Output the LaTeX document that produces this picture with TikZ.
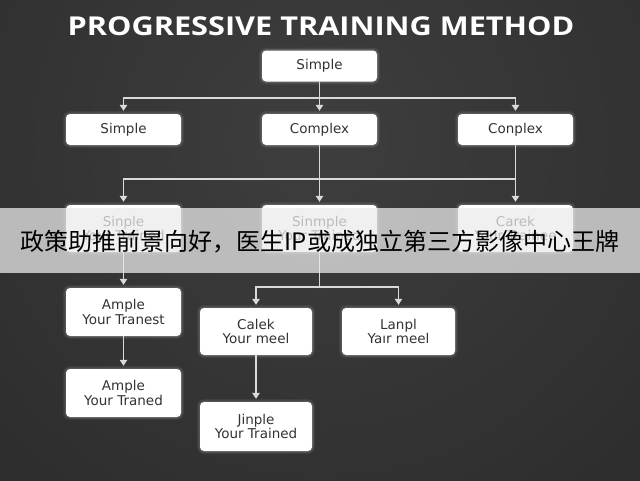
\documentclass[tikz,border=0pt]{standalone}
\usepackage{fontspec}
\usetikzlibrary{arrows.meta,calc}
\newfontfamily\boxfont{DejaVu Sans}
\newfontfamily\titlefont{Open Sans}
\newfontfamily\cjk{Noto Sans CJK SC}
\definecolor{bgdark}{HTML}{222222}
\definecolor{bglight}{HTML}{3E3E3E}
\definecolor{txtgray}{HTML}{333333}
\definecolor{linegray}{HTML}{DADADA}
\definecolor{bannergray}{HTML}{EBEBEB}
\tikzset{
  box/.style={fill=white, rounded corners=4pt, inner sep=0pt, align=center,
    text=txtgray, font=\boxfont\fontsize{13.5}{14.5}\selectfont,
    preaction={draw=white, line width=6pt, opacity=0.06},
    preaction={draw=white, line width=3pt, opacity=0.12}},
  one/.style={box, minimum width=115pt, minimum height=31pt},
  two/.style={box, minimum width=115pt, minimum height=48pt},
  conn/.style={draw=linegray, line width=1.3pt},
  arr/.style={conn, -{Triangle[width=7.5pt,length=6pt]}, shorten >=3pt},
}
\begin{document}
\begin{tikzpicture}[x=1pt,y=-1pt]
\useasboundingbox (0,0) rectangle (640,480);
\fill[bgdark] (0,0) rectangle (640,480);
\begin{scope}
\clip (0,0) rectangle (640,480);
\fill[inner color=bglight, outer color=bgdark] (320,140) circle (760);
\end{scope}
\node[text=white, xscale=1.18, font=\titlefont\bfseries\fontsize{26}{30}\selectfont] (title) at (321,26) {PROGRESSIVE TRAINING METHOD};
% nodes
\node[one] (top) at (319.5,66) {Simple};
\node[one] (r2a) at (123.5,129.5) {Simple};
\node[one] (r2b) at (319.5,129.5) {Complex};
\node[one] (r2c) at (515.5,129.5) {Conplex};
\node[two, minimum height=47pt] (r3a) at (123.5,228.5) {Sinple\\Your Trained};
\node[two, minimum height=47pt] (r3b) at (319.5,228.5) {Sinmple\\Your Trained};
\node[two, minimum height=47pt] (r3c) at (515.5,228.5) {Carek\\Your Trainee};
\node[two] (a1) at (123.5,312) {Ample\\Your Tranest};
\node[two] (a2) at (123.5,393) {Ample\\Your Traned};
\node[two, minimum width=112pt, minimum height=47pt] (calek) at (256,331.5) {Calek\\Your meel};
\node[two, minimum width=113pt, minimum height=47pt] (lanpl) at (398.5,331.5) {Lanpl\\Yaır meel};
\node[two, minimum width=112pt, minimum height=49pt] (jinple) at (256,426.5) {Jinple\\Your Trained};
% connectors
\coordinate (s1) at (319.5,98);
\coordinate (s2) at (319.5,179);
\coordinate (s2r) at (515.5,179);
\coordinate (s3) at (319.5,287);
\draw[arr] (top) -- (r2b);
\draw[arr] (s1) -| (r2a);
\draw[arr] (s1) -| (r2c);
\draw[arr] (r2b) -- (r3b);
\draw[arr] (r2c) -- (r3c);
\draw[conn] (s2) -- (s2r);
\draw[arr] (s2) -| (r3a);
\draw[conn] (r3b) -- (s3);
\draw[arr] (s3) -| (calek);
\draw[arr] (s3) -| (lanpl);
\draw[arr] (r3a) -- (a1);
\draw[arr] (a1) -- (a2);
\draw[arr] (calek) -- (jinple);
% banner
\fill[bannergray, opacity=0.74] (0,208) rectangle (640,272.5);
\node[text=black, font=\cjk\fontsize{24}{28}\selectfont] (banner) at (320,242) {政策助推前景向好，医生IP或成独立第三方影像中心王牌};
\end{tikzpicture}
\end{document}
